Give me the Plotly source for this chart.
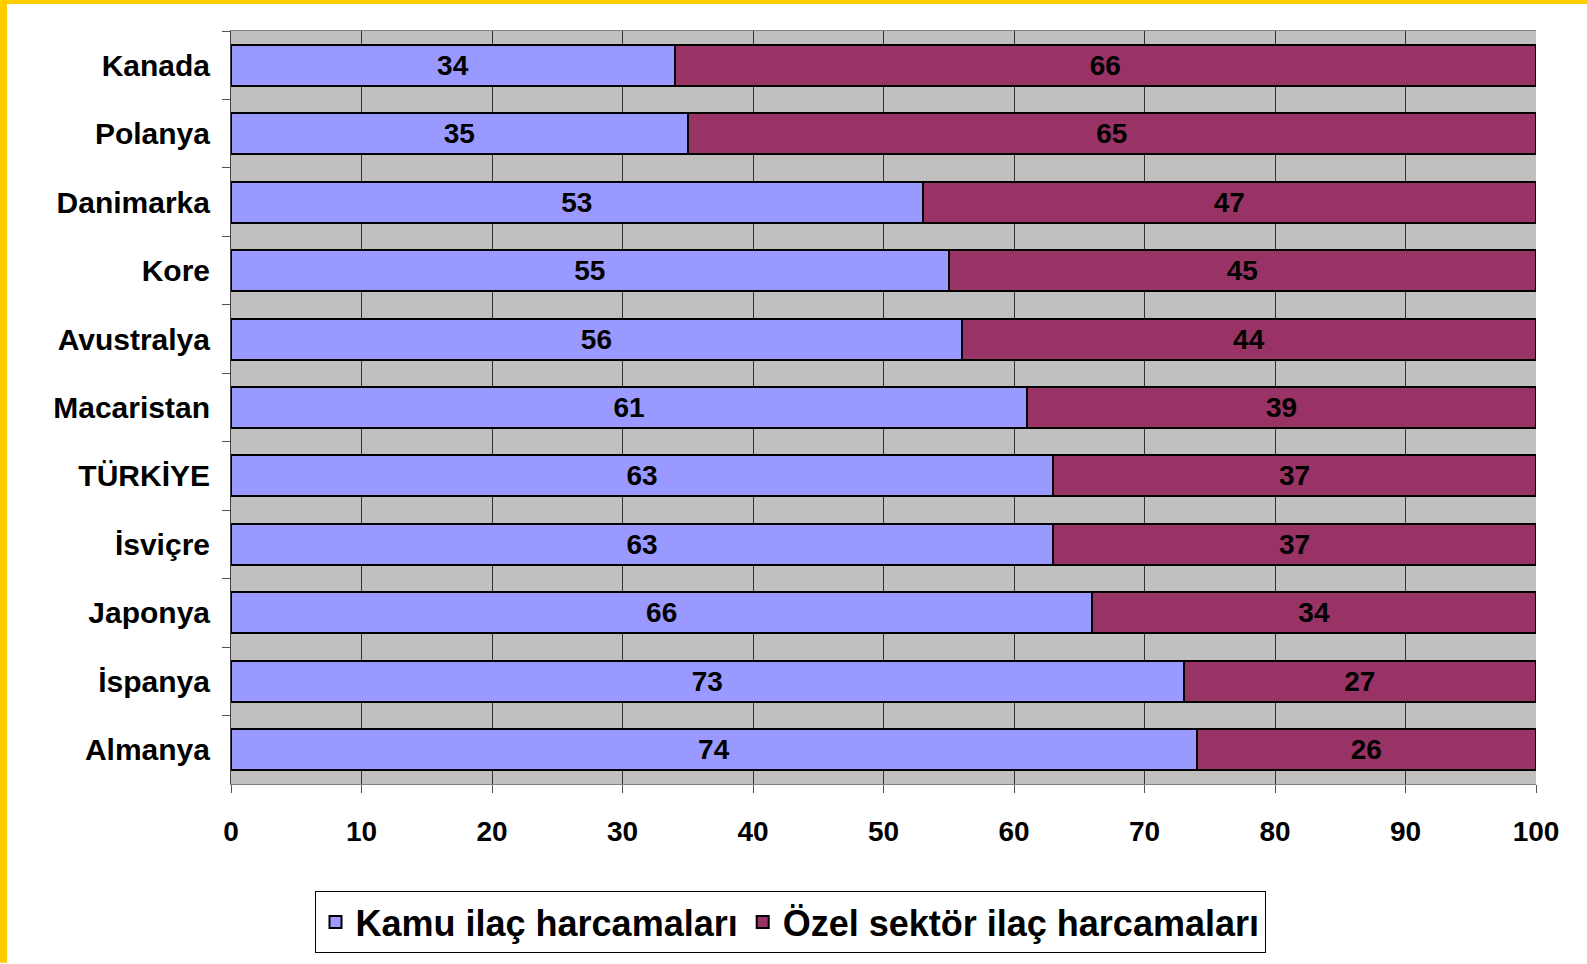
import plotly.graph_objects as go

countries = ["Kanada", "Polanya", "Danimarka", "Kore", "Avustralya", "Macaristan",
             "TÜRKİYE", "İsviçre", "Japonya", "İspanya", "Almanya"]
kamu = [34, 35, 53, 55, 56, 61, 63, 63, 66, 73, 74]
ozel = [66, 65, 47, 45, 44, 39, 37, 37, 34, 27, 26]
x_ticks = [0, 10, 20, 30, 40, 50, 60, 70, 80, 90, 100]

FONT = "Liberation Sans, Arial, sans-serif"
W, H = 1587, 964
L, R, T, B = 231, 51, 31, 179
pw, ph = W - L - R, H - T - B


def f(size):
    return dict(family=FONT, size=size, color="black", weight="bold")


fig = go.Figure()
fig.add_trace(go.Bar(
    y=countries, x=kamu, orientation="h", name="Kamu ilaç harcamaları",
    marker=dict(color="#9999FF", line=dict(color="black", width=2)),
    text=kamu, textposition="inside", insidetextanchor="middle",
    textfont=f(28),
))
fig.add_trace(go.Bar(
    y=countries, x=ozel, orientation="h", name="Özel sektör ilaç harcamaları",
    marker=dict(color="#993366", line=dict(color="black", width=2)),
    text=ozel, textposition="inside", insidetextanchor="middle",
    textfont=f(28),
))

# yellow frame (top & left)
fig.add_shape(type="rect", xref="paper", yref="paper", layer="above",
              x0=-L / pw, x1=(-L + 7) / pw, y0=-B / ph, y1=(ph + T) / ph,
              fillcolor="#FFCC00", line=dict(width=0))
fig.add_shape(type="rect", xref="paper", yref="paper", layer="above",
              x0=-L / pw, x1=(pw + R) / pw, y0=(ph + T - 4) / ph, y1=(ph + T) / ph,
              fillcolor="#FFCC00", line=dict(width=0))

fig.update_layout(
    width=W, height=H,
    barmode="stack", bargap=0.4,
    paper_bgcolor="white", plot_bgcolor="#C0C0C0",
    margin=dict(l=L, r=R, t=T, b=B),
    font=dict(family=FONT, color="black"),
    showlegend=True,
    uniformtext=dict(minsize=10, mode="show"),
    legend=dict(orientation="h", xanchor="center", x=(790 - L) / pw,
                yanchor="top", y=-(891 - (T + ph)) / ph,
                bordercolor="black", borderwidth=1, bgcolor="white",
                font=f(36), itemwidth=30,
                traceorder="normal"),
    xaxis=dict(range=[0, 100], tickvals=x_ticks, ticktext=[str(v) for v in x_ticks],
               showgrid=True, gridcolor="#333333", gridwidth=1,
               ticks="outside", ticklen=8, tickcolor="#555555",
               showline=True, linecolor="#808080", linewidth=1, mirror=True,
               zeroline=False, ticklabelstandoff=14,
               tickfont=f(28)),
    yaxis=dict(categoryorder="array", categoryarray=countries, autorange="reversed",
               ticks="outside", ticklen=8, tickcolor="#555555", tickson="boundaries",
               showline=True, linecolor="#404040", linewidth=1,
               showgrid=False, ticklabelstandoff=14,
               tickfont=f(30)),
)
fig.update_traces(textangle=0, cliponaxis=False)

fig.write_html("out.html", config={"displayModeBar": False},
               post_script="document.body.style.margin='0';document.body.style.padding='0';")
